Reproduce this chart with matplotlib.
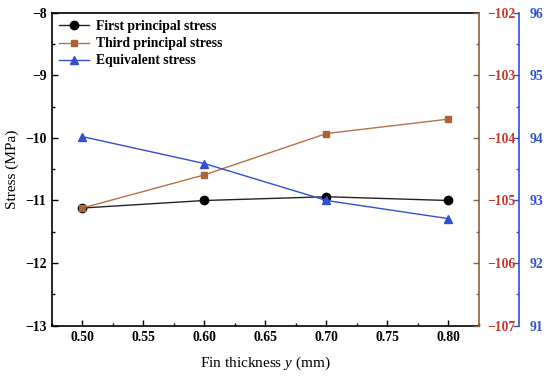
import matplotlib
matplotlib.use("Agg")
import matplotlib.pyplot as plt
from matplotlib.ticker import MultipleLocator

x = [0.50, 0.60, 0.70, 0.80]
first_principal = [-11.12, -11.00, -10.94, -11.00]
third_principal = [-105.12, -104.59, -103.93, -103.70]
equivalent = [94.02, 93.59, 93.00, 92.71]
xticks = [0.50, 0.55, 0.60, 0.65, 0.70, 0.75, 0.80]

plt.rcParams['font.family'] = ['Liberation Serif', 'DejaVu Serif']
plt.rcParams['mathtext.fontset'] = 'custom'
plt.rcParams['mathtext.it'] = 'Liberation Serif:italic'
plt.rcParams['mathtext.rm'] = 'Liberation Serif'

BROWN = '#a8643c'
BROWN_SPINE = '#8a6240'
RED_TXT = '#c0392b'
BLUE = '#3050d0'

fig = plt.figure(figsize=(5.5, 3.79), dpi=100)
ax = fig.add_axes([52/550, 1-325.7/379, (479-52)/550, (325.7-12.7)/379])

l1, = ax.plot(x, first_principal, color='#222222', lw=1.0, marker='o', ms=6,
              mfc='black', mec='black', label='First principal stress', zorder=3)
ax.set_xlim(0.475, 0.825)
ax.set_ylim(-13, -8)
ax.set_xticks(xticks)
ax.set_xticklabels([f"{v:.2f}" for v in xticks])
ax.xaxis.set_minor_locator(MultipleLocator(0.025))
ax.yaxis.set_major_locator(MultipleLocator(1))
ax.yaxis.set_minor_locator(MultipleLocator(0.5))
ax.tick_params(which='both', direction='in', top=False, right=False, labelsize=9.8, width=1.0)
ax.tick_params(which='major', length=4)
ax.tick_params(which='minor', length=2)
ax.tick_params(axis='y', pad=4)
for lab in ax.get_xticklabels() + ax.get_yticklabels():
    lab.set_fontweight('bold')
ax.set_xlabel('Fin thickness $\\mathit{y}$ (mm)', fontsize=11, labelpad=8)
ax.set_ylabel('Stress (MPa)', fontsize=11, labelpad=4)
for s in ['left', 'bottom', 'top']:
    ax.spines[s].set_linewidth(1.2)
ax.spines['right'].set_visible(False)

ax2 = ax.twinx()
l2, = ax2.plot(x, third_principal, color='#b5714a', lw=1.0, marker='s', ms=5,
               mfc=BROWN, mec=BROWN, label='Third principal stress', zorder=3)
ax2.set_ylim(-107, -102)
ax2.yaxis.set_major_locator(MultipleLocator(1))
ax2.yaxis.set_minor_locator(MultipleLocator(0.5))
ax2.tick_params(which='both', direction='in', labelsize=9.8, colors=BROWN_SPINE,
                labelcolor=RED_TXT, width=1.0, pad=6)
ax2.tick_params(which='major', length=4)
ax2.tick_params(which='minor', length=2)
for lab in ax2.get_yticklabels():
    lab.set_fontweight('bold')
ax2.spines['right'].set_color(BROWN_SPINE)
ax2.spines['right'].set_linewidth(1.2)
for s in ['left', 'top', 'bottom']:
    ax2.spines[s].set_visible(False)

ax3 = ax.twinx()
ax3.spines['right'].set_position(('axes', 1 + 40/427))
l3, = ax3.plot(x, equivalent, color=BLUE, lw=1.0, marker='^', ms=6,
               mfc=BLUE, mec=BLUE, label='Equivalent stress', zorder=3)
ax3.set_ylim(91, 96)
ax3.yaxis.set_major_locator(MultipleLocator(1))
ax3.yaxis.set_minor_locator(MultipleLocator(0.5))
ax3.tick_params(which='both', direction='in', labelsize=9.8, colors=BLUE, width=1.0, pad=8)
ax3.tick_params(which='major', length=4)
ax3.tick_params(which='minor', length=2)
for lab in ax3.get_yticklabels():
    lab.set_fontweight('bold')
ax3.spines['right'].set_color(BLUE)
ax3.spines['right'].set_linewidth(1.2)
for s in ['left', 'top', 'bottom']:
    ax3.spines[s].set_visible(False)

leg = ax.legend(handles=[l1, l2, l3], loc='upper left', frameon=False,
                prop={'weight': 'bold', 'size': 9.8}, handlelength=2.2,
                borderaxespad=0.15, labelspacing=0.3, handletextpad=0.45,
                bbox_to_anchor=(0.0, 1.0))

fig.savefig('out.png', dpi=100)
